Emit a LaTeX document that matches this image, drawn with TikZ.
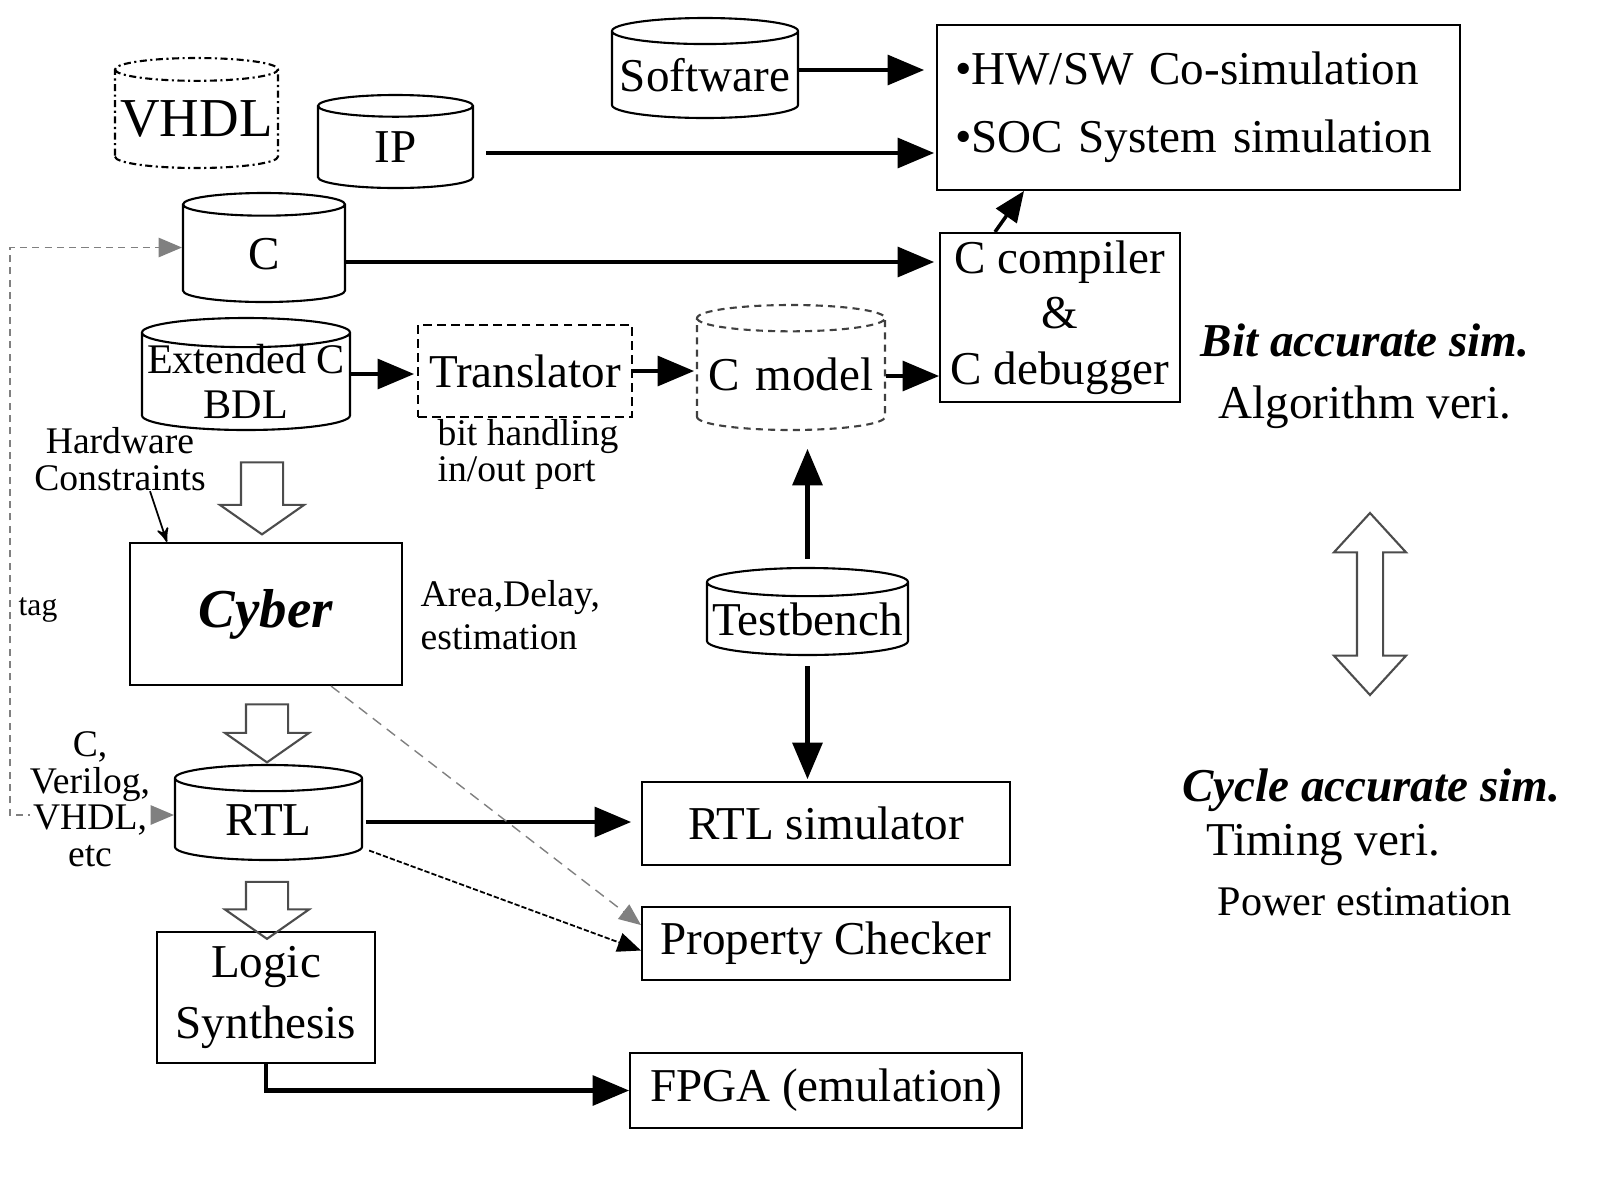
\documentclass[tikz,border=0pt]{standalone}
\usepackage{fontspec}
\setmainfont{Liberation Serif}
\usetikzlibrary{arrows,shapes.geometric,shapes.arrows}
\newcommand{\bigfs}{\fontsize{15.6}{17}\selectfont}
\newcommand{\normfs}{\fontsize{13.4}{14.4}\selectfont}
\newcommand{\midfs}{\fontsize{12}{12.8}\selectfont}
\newcommand{\smallfs}{\fontsize{10.7}{10.4}\selectfont}
\tikzset{
  blk/.style = {draw, rectangle, line width=0.6pt, align=center, font=\normfs,
    inner sep=0pt},% plain box
  db/.style = {draw, cylinder, shape border rotate=90, aspect=0.14,
    line width=0.6pt, align=center, font=\normfs, inner sep=0pt,
    anchor=shape center},% data base, width given by text width
  lbl/.style = {align=center, font=\smallfs, inner sep=0pt},
  flow/.style = {-triangle 45, line width=1.4pt},
  thinflow/.style = {-triangle 45, line width=0.5pt},
  tagline/.style = {<->, >=triangle 45, gray, line width=0.5pt,
    dash pattern=on 2pt off 1.5pt},
  hollow/.style = {draw=black!70, line width=0.6pt, single arrow,
    single arrow tip angle=110, single arrow head extend=0.21cm,
    inner xsep=0pt, inner ysep=0.2cm, rotate=-90}% hollow down arrow
}
\begin{document}
\begin{tikzpicture}
\useasboundingbox (0,0) rectangle (16.24,-11.80);
% data bases
\node[db, dash pattern=on 2pt off 1pt on 0.6pt off 1pt, font=\bigfs,
  text width=1.63cm, minimum height=1.10cm] (vhdl) at (1.965,-1.13) {VHDL};
\node[db, text width=1.55cm, minimum height=0.93cm] (ip) at (3.955,-1.415) {IP};
\node[db, text width=1.86cm, minimum height=1.00cm] (sw) at (7.05,-0.68) {Software};
\node[db, text width=1.62cm, minimum height=1.09cm] (cc) at (2.64,-2.475) {C};
\node[db, text width=2.08cm, minimum height=1.12cm,
  label={[font=\midfs, align=center, inner sep=0pt]center:Extended C\\BDL}]
  (extc) at (2.46,-3.74) {};
\node[db, draw=black!75, dash pattern=on 2pt off 1.5pt,
  text width=1.88cm, minimum height=1.25cm] (cmodel) at (7.91,-3.675) {C model};
\node[db, text width=2.01cm, minimum height=0.87cm] (tb) at (8.075,-6.115) {Testbench};
\node[db, text width=1.87cm, minimum height=0.95cm] (rtl) at (2.685,-8.125) {RTL};
% boxes
\node[blk, align=left, inner xsep=0.18cm, text width=4.87cm, minimum height=1.65cm]
  (hwsw) at (11.985,-1.075) {\textbullet HW/SW Co-simulation\\[0.17cm]\textbullet SOC System simulation};
\node[blk, minimum width=2.40cm, minimum height=1.69cm] (ccomp) at (10.60,-3.175) {C compiler\\[0.05cm]\&\\[0.05cm]C debugger};
\node[blk, dash pattern=on 2.5pt off 1.5pt, minimum width=2.14cm, minimum height=0.92cm]
  (trans) at (5.25,-3.71) {Translator};
\node[blk, font=\bigfs, minimum width=2.72cm, minimum height=1.42cm] (cyber) at (2.66,-6.14) {\textbf{\textit{Cyber}}};
\node[blk, minimum width=3.68cm, minimum height=0.83cm] (rtlsim) at (8.26,-8.235) {RTL simulator};
\node[blk, minimum width=3.68cm, minimum height=0.73cm] (prop) at (8.26,-9.435) {Property Checker};
\node[blk, minimum width=2.18cm, minimum height=1.31cm] (logic) at (2.66,-9.975) {Logic\\[0.1cm]Synthesis};
\node[blk, minimum width=3.92cm, minimum height=0.75cm] (fpga) at (8.26,-10.905) {FPGA (emulation)};
% labels
\node[lbl, align=left, anchor=west] (bith) at (4.37,-4.545) {bit handling\\in/out port};
\node[lbl] (hwc) at (1.20,-4.59) {Hardware\\Constraints};
\node[lbl, align=left, anchor=west] (area) at (4.20,-6.15) {Area,Delay,\\[0.07cm]estimation};
\node[lbl, font=\fontsize{9}{10}\selectfont] (tag) at (0.38,-6.10) {tag};
\node[font=\normfs] (bitacc) at (13.65,-3.40) {\textbf{\textit{Bit accurate sim.}}};
\node[font=\normfs] (algo) at (13.65,-4.07) {Algorithm veri.};
\node[font=\normfs] (cycacc) at (13.71,-7.90) {\textbf{\textit{Cycle accurate sim.}}};
\node[font=\normfs] (timing) at (13.23,-8.45) {Timing veri.};
\node[font=\midfs] (power) at (13.65,-9.02) {Power estimation};
% hollow arrows
\node[hollow, minimum height=0.72cm] (dn1) at (2.62,-4.91) {};
\node[hollow, minimum height=0.58cm] (dn2) at (2.67,-7.26) {};
\node[hollow, minimum height=0.57cm] (dn3) at (2.67,-9.03) {};
\node[draw=black!70, line width=0.6pt, double arrow, rotate=90, double arrow tip angle=85,
  double arrow head extend=0.23cm, inner xsep=0pt, inner ysep=0.12cm,
  minimum height=1.82cm] (updown) at (13.70,-6.04) {};
% connectors, side points taken at the shape centre height
\coordinate (swc) at (sw.shape center -| sw.east);
\coordinate (ipc) at (ip.shape center -| ip.east);
\coordinate (ccc) at (cc.shape center -| cc.east);
\coordinate (ccw) at (cc.shape center -| cc.west);
\coordinate (extcc) at (extc.shape center -| extc.east);
\coordinate (cmc) at (cmodel.shape center -| cmodel.east);
\coordinate (rtlc) at (rtl.shape center -| rtl.east);
\coordinate (rtlw) at (rtl.shape center -| rtl.west);
\coordinate (ipout) at ([xshift=1.2mm,yshift=-1.15mm]ipc);
\coordinate (ccout) at ([yshift=-1.45mm]ccc);
\coordinate (rtlout) at ([xshift=0.3mm,yshift=-0.95mm]rtlc);
\coordinate (cmout) at ([yshift=-0.85mm]cmc);
\coordinate (tagx) at (0.10,-5);
\draw[flow, shorten >=1.2mm] ([yshift=-0.2mm]swc) -- ([yshift=-0.2mm]swc -| hwsw.west);
\draw[flow, shorten >=0.2mm] (ipout) -- (ipout -| hwsw.west);
\draw[flow, shorten >=0.5mm] (ccout) -- (ccout -| ccomp.west);
\draw[-triangle 45, line width=1pt] ([xshift=-6.5mm]ccomp.north) -- ([xshift=8.8mm]hwsw.south west);
\draw[flow, shorten >=0.3mm] (extcc) -- (extcc -| trans.west);
\draw[flow, shorten >=0.2mm] (trans.east) -- (trans.east -| cmodel.west);
\draw[flow] (cmout) -- (cmout -| ccomp.west);
\draw[flow, shorten <=0.8mm, shorten >=1.8mm] (tb.north) -- (tb.north |- cmodel.south);
\draw[flow, shorten <=1mm, shorten >=0.2mm] (tb.south) -- (tb.south |- rtlsim.north);
\draw[flow, shorten >=1mm] (rtlout) -- (rtlout -| rtlsim.west);
\draw[thinflow, dash pattern=on 1.5pt off 0.6pt] ([xshift=0.6mm,yshift=-3.8mm]rtlc) -- ([yshift=-0.07cm]prop.west);
\draw[thinflow, gray, densely dashed, line width=0.4pt] ([xshift=-7.2mm]cyber.south east) -- ([yshift=1.85mm]prop.west);
\draw[flow] (logic.south) |- (fpga.west);
\draw[-stealth', line width=0.5pt] ([xshift=3mm]hwc.south) -- ([xshift=3.8mm]cyber.north west);
\draw[tagline] ([yshift=-0.25mm]rtlw) -| (tagx |- ccw) -- (ccw);
\node[lbl, fill=white] (lang) at (0.90,-7.99) {C,\\Verilog,\\VHDL,\\etc};
\end{tikzpicture}
\end{document}
